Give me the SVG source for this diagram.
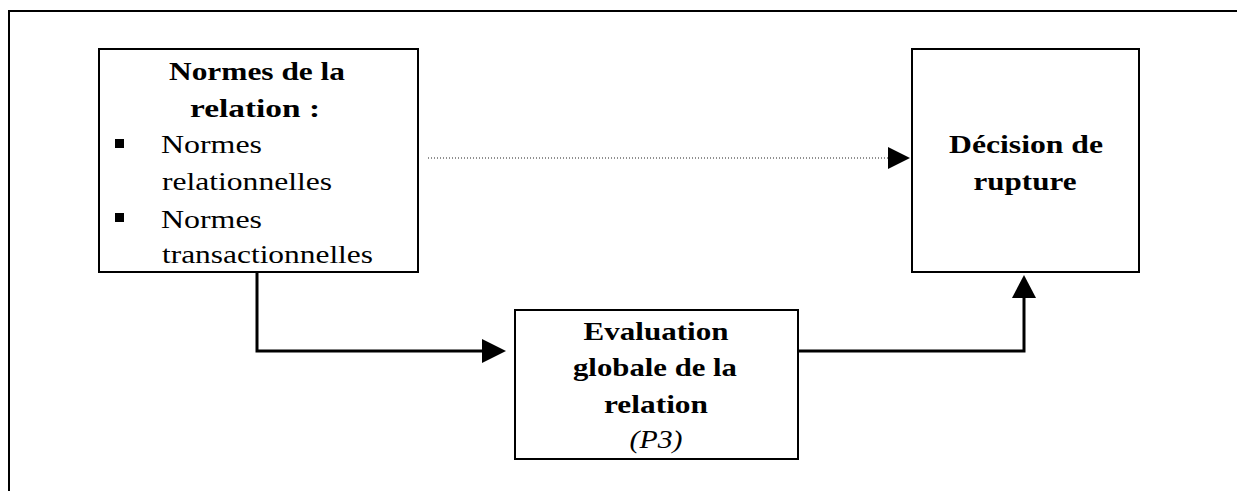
<svg xmlns="http://www.w3.org/2000/svg" width="1237" height="491" viewBox="0 0 1237 491">
<style>
.box{fill:#fff;stroke:#000;stroke-width:2}
.t{font-size:25px;fill:#000}
.b{font-weight:bold}
.c{text-anchor:middle}
.i{font-style:italic}
.conn{fill:none;stroke:#000;stroke-width:3}
.dot{fill:none;stroke:#222;stroke-width:1.2;stroke-dasharray:1 2}
</style>
<rect width="1237" height="491" fill="#fff"/>
<rect id="frame" x="9" y="11" width="1240" height="500" fill="none" stroke="#000" stroke-width="2"/>
<g id="connectors">
<path class="conn" d="M257,273 V351 H484"/>
<polygon points="482,339 506,351 482,363"/>
<path class="conn" d="M797,351 H1024 V296"/>
<polygon points="1012,298 1024,275 1036,298"/>
<path class="dot" d="M428,158 H889"/>
<polygon points="888,147 910,158 888,169"/>
</g>
<g font-family="Liberation Serif, Times New Roman, Tinos, Times, serif">
<g id="node-normes">
<rect class="box" x="99" y="49" width="319" height="223"/>
<text class="t b c" x="257" y="80" textLength="176" lengthAdjust="spacingAndGlyphs">Normes de la</text>
<text class="t b c" x="255" y="117" textLength="130" lengthAdjust="spacingAndGlyphs">relation :</text>
<rect x="115" y="139" width="9" height="9"/>
<text class="t" x="161" y="153" textLength="101" lengthAdjust="spacingAndGlyphs">Normes</text>
<text class="t" x="162" y="190" textLength="170" lengthAdjust="spacingAndGlyphs">relationnelles</text>
<rect x="115" y="213" width="9" height="9"/>
<text class="t" x="161" y="228" textLength="101" lengthAdjust="spacingAndGlyphs">Normes</text>
<text class="t" x="162" y="263" textLength="211" lengthAdjust="spacingAndGlyphs">transactionnelles</text>
</g>
<g id="node-evaluation">
<rect class="box" x="515" y="310" width="283" height="149"/>
<text class="t b c" x="656" y="340" textLength="145" lengthAdjust="spacingAndGlyphs">Evaluation</text>
<text class="t b c" x="655" y="376" textLength="164" lengthAdjust="spacingAndGlyphs">globale de la</text>
<text class="t b c" x="656" y="413" textLength="104" lengthAdjust="spacingAndGlyphs">relation</text>
<text class="t i c" x="656" y="448" textLength="53" lengthAdjust="spacingAndGlyphs">(P3)</text>
</g>
<g id="node-decision">
<rect class="box" x="912" y="49" width="227" height="223"/>
<text class="t b c" x="1026" y="153" textLength="154" lengthAdjust="spacingAndGlyphs">Décision de</text>
<text class="t b c" x="1025" y="190" textLength="103" lengthAdjust="spacingAndGlyphs">rupture</text>
</g>
</g>
</svg>
